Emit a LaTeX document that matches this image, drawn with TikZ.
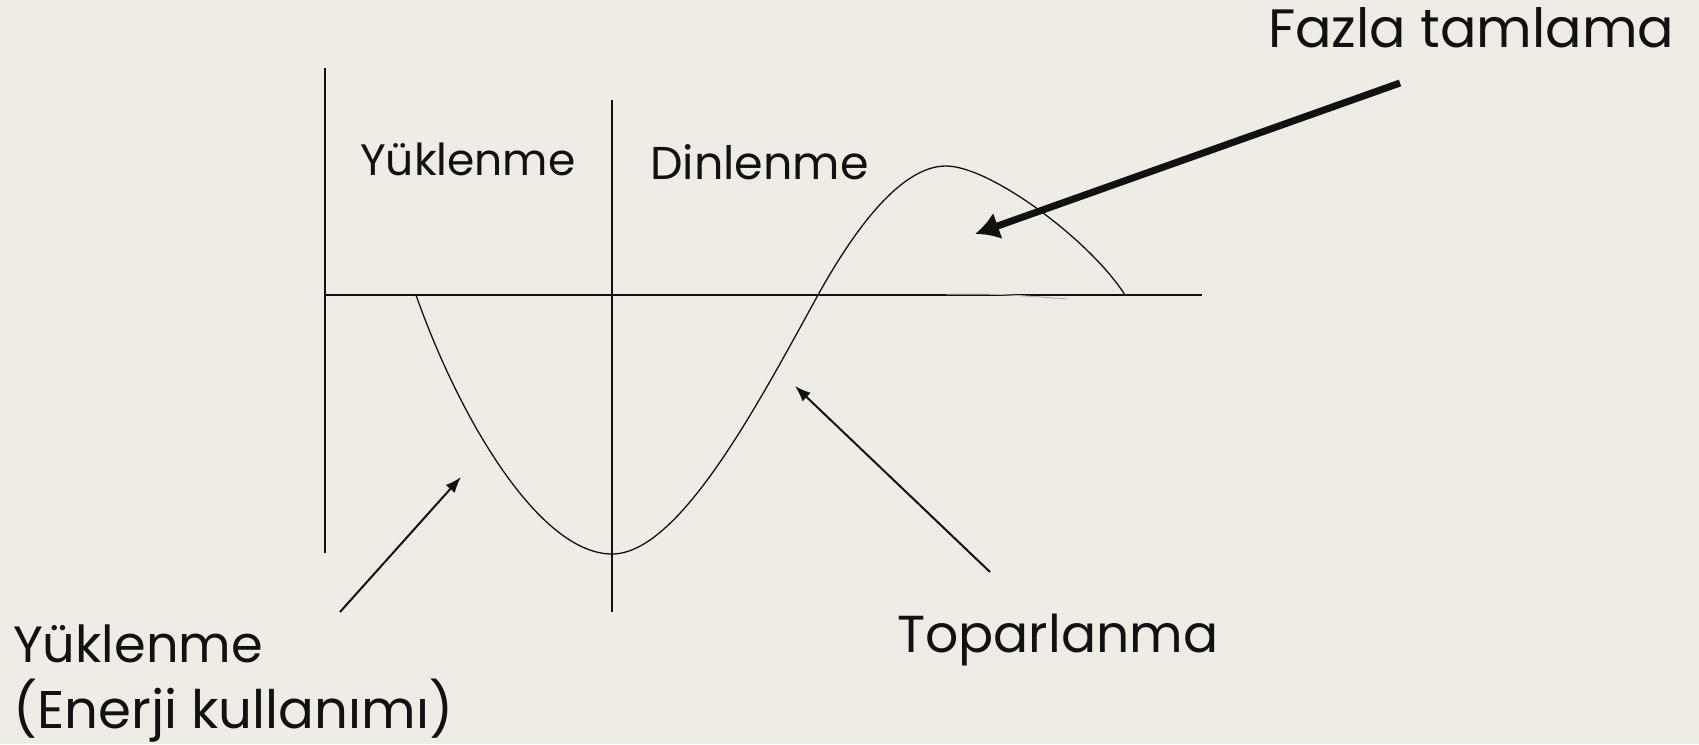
\documentclass[tikz,border=0pt]{standalone}
\usepackage{fontspec}
\setmainfont{Poppins}
\usetikzlibrary{arrows.meta}
\definecolor{bg}{HTML}{EEECE4}
\definecolor{ink}{HTML}{111111}
\tikzset{
  axisline/.style={draw=ink, line width=1.6pt},
  curveline/.style={draw=ink, line width=1.3pt},
  thinarrow/.style={draw=ink, line width=2pt, -{Latex[length=16pt,width=12pt]}},
  heavyarrow/.style={draw=ink, line width=7pt, -{Latex[length=24pt,width=28pt]}},
  lbl/.style={inner sep=0pt, anchor=base west, text=ink},
}
\begin{document}
\begin{tikzpicture}[x=1pt,y=-1pt]
\fill[bg] (0,0) rectangle (1699,744);
\useasboundingbox (0,0) rectangle (1699,744);
% axes
\coordinate (vlTop) at (325,68);
\coordinate (vlBot) at (325,553);
\coordinate (hL) at (325,295);
\coordinate (hR) at (1202,295);
\coordinate (vmTop) at (612,100);
\coordinate (vmBot) at (612,612);
\draw[axisline] (vlTop) -- (vlBot);
\draw[axisline] (hL) -- (hR);
\draw[axisline] (vmTop) -- (vmBot);
% curve
\coordinate (cStart) at (416,295);
\coordinate (cMin) at (612,554);
\coordinate (cCross) at (818,295);
\coordinate (cPeak) at (946,166);
\coordinate (cEnd) at (1125,295);
\draw[curveline] (cStart) .. controls (460,420) and (540,554) .. (cMin)
  .. controls (680,554) and (760,400) .. (cCross)
  .. controls (853,232) and (900,166) .. (cPeak)
  .. controls (990,166) and (1090,240) .. (cEnd);
% faint stroke
\coordinate (gA) at (946,294);
\coordinate (gB) at (1067,299);
\draw[gray!60, line width=1pt] (gA) .. controls (1000,294) .. (gB);
% labels
\node[lbl, font=\fontsize{44}{48}\selectfont] (tY) at (360,175) {Yüklenme};
\node[lbl, font=\fontsize{46}{50}\selectfont] (tD) at (650,179) {Dinlenme};
\node[lbl, font=\fontsize{54}{60}\selectfont] (tF) at (1268,47) {Fazla tamlama};
\node[lbl, font=\fontsize{52}{58}\selectfont] (tT) at (897,652) {Toparlanma};
\node[lbl, font=\fontsize{51}{56}\selectfont] (tB1) at (13,662) {Yüklenme};
\node[lbl, font=\fontsize{53}{58}\selectfont] (tB2) at (13,728) {(Enerji kullanımı)};
% arrows
\coordinate (a1s) at (340,612);
\coordinate (a1e) at (461,477);
\coordinate (a2s) at (990,572);
\coordinate (a2e) at (795,386);
\coordinate (a3s) at (1400,83);
\coordinate (a3e) at (975,234);
\draw[thinarrow] (a1s) -- (a1e);
\draw[thinarrow] (a2s) -- (a2e);
\draw[heavyarrow] (a3s) -- (a3e);
\end{tikzpicture}
\end{document}
